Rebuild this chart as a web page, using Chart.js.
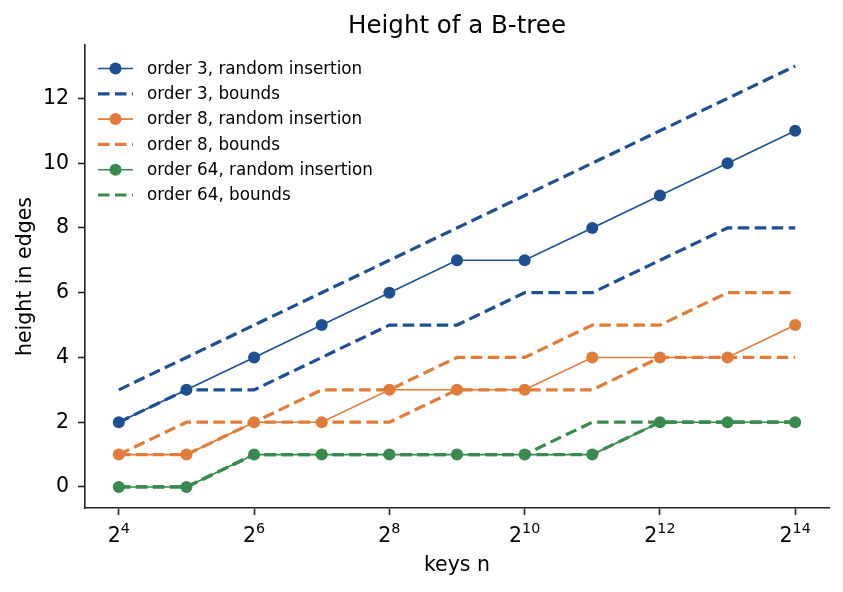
<!DOCTYPE html>
<html>
<head>
<meta charset="utf-8">
<script src="https://cdn.jsdelivr.net/npm/chart.js@4"></script>
<style>
  html, body { margin: 0; padding: 0; background: #fff; }
  #wrap { width: 843px; height: 592px; }
</style>
</head>
<body>
<div id="wrap"><canvas id="c" width="843" height="592"></canvas></div>
<script>
// ---- data ----
const exponents = [4, 5, 6, 7, 8, 9, 10, 11, 12, 13, 14];   // keys n = 2^exponent
const order3Random  = [2, 3, 4, 5, 6, 7, 7, 8, 9, 10, 11];
const order3Upper   = [3, 4, 5, 6, 7, 8, 9, 10, 11, 12, 13];
const order3Lower   = [2, 3, 3, 4, 5, 5, 6, 6, 7, 8, 8];
const order8Random  = [1, 1, 2, 2, 3, 3, 3, 4, 4, 4, 5];
const order8Upper   = [1, 2, 2, 3, 3, 4, 4, 5, 5, 6, 6];
const order8Lower   = [1, 1, 2, 2, 2, 3, 3, 3, 4, 4, 4];
const order64Random = [0, 0, 1, 1, 1, 1, 1, 1, 2, 2, 2];
const order64Upper  = [0, 0, 1, 1, 1, 1, 1, 2, 2, 2, 2];
const order64Lower  = [0, 0, 1, 1, 1, 1, 1, 1, 2, 2, 2];
const xTickExponents = [4, 6, 8, 10, 12, 14];
const yTickValues = [0, 2, 4, 6, 8, 10, 12];
const legendLabels = [
  'order 3, random insertion', 'order 3, bounds',
  'order 8, random insertion', 'order 8, bounds',
  'order 64, random insertion', 'order 64, bounds'
];

const BLUE = '#1e4f90', ORANGE = '#e07b39', GREEN = '#3a894e';
const FONT = "'DejaVu Sans', sans-serif";
const DASH = [11.5, 5.5];

function pts(vals) { return exponents.map((e, i) => ({ x: e, y: vals[i] })); }

function randomSet(label, vals, color) {
  return { label, data: pts(vals), borderColor: color, backgroundColor: color,
    borderWidth: 1.6, pointRadius: 6, pointHoverRadius: 6, pointBorderWidth: 0,
    pointBackgroundColor: color, tension: 0, fill: false };
}
function boundSet(label, vals, color) {
  return { label, data: pts(vals), borderColor: color, backgroundColor: color,
    borderWidth: 3.2, borderDash: DASH, borderCapStyle: 'butt', pointRadius: 0,
    pointHoverRadius: 0, tension: 0, fill: false };
}

const datasets = [
  randomSet(legendLabels[0], order3Random, BLUE),
  boundSet(legendLabels[1], order3Upper, BLUE),
  boundSet(legendLabels[1], order3Lower, BLUE),
  randomSet(legendLabels[2], order8Random, ORANGE),
  boundSet(legendLabels[3], order8Upper, ORANGE),
  boundSet(legendLabels[3], order8Lower, ORANGE),
  randomSet(legendLabels[4], order64Random, GREEN),
  boundSet(legendLabels[5], order64Upper, GREEN),
  boundSet(legendLabels[5], order64Lower, GREEN)
];
// later datasets drawn on top (as in the original)
datasets.forEach((d, i) => { d.order = datasets.length - i; });

const legendItems = [
  { label: legendLabels[0], color: BLUE, dashed: false },
  { label: legendLabels[1], color: BLUE, dashed: true },
  { label: legendLabels[2], color: ORANGE, dashed: false },
  { label: legendLabels[3], color: ORANGE, dashed: true },
  { label: legendLabels[4], color: GREEN, dashed: false },
  { label: legendLabels[5], color: GREEN, dashed: true }
];

const titlePlugin = {
  id: 'customTitle',
  afterDraw(chart) {
    const ctx = chart.ctx, a = chart.chartArea;
    ctx.save();
    ctx.fillStyle = '#000';
    ctx.font = `24.5px ${FONT}`;
    ctx.textAlign = 'center';
    ctx.textBaseline = 'alphabetic';
    ctx.fillText('Height of a B-tree', (a.left + a.right) / 2, 33);
    ctx.restore();
  }
};

// x tick labels as 2 with a raised exponent, positioned from the x scale
const powTickPlugin = {
  id: 'powTicks',
  afterDraw(chart) {
    const ctx = chart.ctx, xs = chart.scales.x;
    const baseFont = `20.5px ${FONT}`, supFont = `14.3px ${FONT}`;
    const baseY = xs.top + 34;
    ctx.save();
    ctx.fillStyle = '#000';
    ctx.textBaseline = 'alphabetic';
    ctx.textAlign = 'left';
    xTickExponents.forEach(e => {
      const cx = xs.getPixelForValue(e);
      ctx.font = baseFont;
      const w1 = ctx.measureText('2').width;
      ctx.font = supFont;
      const w2 = ctx.measureText(String(e)).width;
      const left = cx - (w1 + w2) / 2;
      ctx.font = baseFont;
      ctx.fillText('2', left, baseY);
      ctx.font = supFont;
      ctx.fillText(String(e), left + w1, baseY - 9);
    });
    ctx.restore();
  }
};

const legendPlugin = {
  id: 'customLegend',
  afterDraw(chart) {
    const ctx = chart.ctx;
    const x0 = 98, x1 = 133, tx = 147, y0 = 68.5, dy = 25.3;
    ctx.save();
    legendItems.forEach((it, i) => {
      const y = y0 + i * dy;
      ctx.strokeStyle = it.color;
      ctx.lineCap = 'butt';
      if (it.dashed) {
        ctx.lineWidth = 3.2;
        ctx.setLineDash(DASH);
      } else {
        ctx.lineWidth = 1.6;
        ctx.setLineDash([]);
      }
      ctx.beginPath(); ctx.moveTo(x0, y); ctx.lineTo(x1, y); ctx.stroke();
      ctx.setLineDash([]);
      if (!it.dashed) {
        ctx.fillStyle = it.color;
        ctx.beginPath(); ctx.arc((x0 + x1) / 2, y, 6, 0, Math.PI * 2); ctx.fill();
      }
      ctx.fillStyle = '#000';
      ctx.font = `16.8px ${FONT}`;
      ctx.textAlign = 'left';
      ctx.textBaseline = 'middle';
      ctx.fillText(it.label, tx, y + 1);
    });
    ctx.restore();
  }
};

new Chart(document.getElementById('c'), {
  type: 'line',
  data: { datasets },
  plugins: [titlePlugin, powTickPlugin, legendPlugin],
  options: {
    responsive: false,
    animation: false,
    events: [],
    layout: { padding: { top: 45, right: 14, left: 0, bottom: 0 } },
    plugins: { legend: { display: false }, title: { display: false }, tooltip: { enabled: false } },
    scales: {
      x: {
        type: 'linear', min: 3.5, max: 14.5,
        afterBuildTicks(scale) { scale.ticks = xTickExponents.map(v => ({ value: v })); },
        afterFit(scale) { scale.height = 84; },
        ticks: { display: false },
        grid: { display: true, drawOnChartArea: false, drawTicks: true, tickLength: 7, tickColor: '#222', tickWidth: 1.6 },
        border: { display: true, color: '#222', width: 1.6 },
        title: { display: true, text: 'keys n', color: '#000', font: { family: FONT, size: 20.5 }, padding: { top: 0, bottom: 14 } }
      },
      y: {
        type: 'linear', min: -0.65, max: 13.65,
        afterBuildTicks(scale) { scale.ticks = yTickValues.map(v => ({ value: v })); },
        afterFit(scale) { scale.width = 85; },
        ticks: { color: '#000', font: { family: FONT, size: 20.5 }, padding: 9, autoSkip: false },
        grid: { display: true, drawOnChartArea: false, drawTicks: true, tickLength: 7, tickColor: '#222', tickWidth: 1.6 },
        border: { display: true, color: '#222', width: 1.6 },
        title: { display: true, text: 'height in edges', color: '#000', font: { family: FONT, size: 20.5 }, padding: { top: 13, bottom: 0 } }
      }
    }
  }
});
</script>
</body>
</html>
